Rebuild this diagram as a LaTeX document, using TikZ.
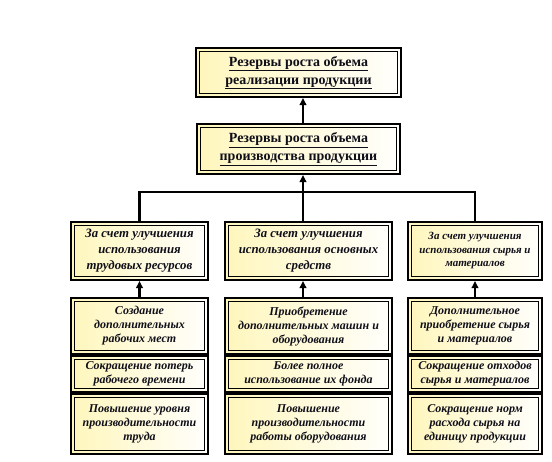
\documentclass[tikz,border=0pt]{standalone}
\usepackage{fontspec}
\setmainfont{Liberation Serif}
\usetikzlibrary{arrows.meta}
\definecolor{ylw}{RGB}{255,246,188}
\definecolor{txt}{RGB}{15,15,25}
\tikzset{
  box/.style={draw, line width=2.2pt, left color=ylw, right color=white!96!ylw,
    align=center, inner sep=0pt, text=txt,
    path picture={\draw[line width=0.8pt]
      ([shift={(3.3pt,3.3pt)}]path picture bounding box.south west) rectangle
      ([shift={(-3.3pt,-3.3pt)}]path picture bounding box.north east);}},
  headfont/.style={font=\fontsize{14}{18}\selectfont\bfseries},
  midfont/.style={font=\fontsize{12.8}{16}\selectfont\bfseries\itshape},
  smallfont/.style={font=\fontsize{11}{13.5}\selectfont\bfseries\itshape},
  lowfont/.style={font=\fontsize{12}{14}\selectfont\bfseries\itshape},
  link/.style={line width=2.4pt},
  arr/.style={line width=2.4pt, -{Triangle[width=6.5pt,length=7pt]}},
}
\begin{document}
\begin{tikzpicture}[x=1pt,y=-1pt]
\fill[white] (0,0) rectangle (552,461);
\useasboundingbox (0,0) rectangle (552,461);
% head boxes
\node[box, headfont, minimum width=204.8pt, minimum height=48.8pt] (top) at (298.5,72.5)
  {\underline{Резервы роста объема}\\\underline{реализации продукции}};
\node[box, headfont, minimum width=202.8pt, minimum height=49.8pt] (sec) at (298.5,149)
  {\underline{Резервы роста объема}\\\underline{производства продукции}};
% middle boxes
\node[box, midfont, minimum width=136.8pt, minimum height=57.8pt] (m1) at (139.5,251)
  {За счет улучшения\\использования\\трудовых ресурсов};
\node[box, midfont, minimum width=166.8pt, minimum height=57.8pt] (m2) at (308.5,251)
  {За счет улучшения\\использования основных\\средств};
\node[box, smallfont, minimum width=133.8pt, minimum height=57.8pt] (m3) at (475,251)
  {За счет улучшения\\использования сырья и\\материалов};
% lower stacks: left
\node[box, lowfont, minimum width=136.8pt, minimum height=55.8pt] (a1) at (139.5,326)
  {Создание\\дополнительных\\рабочих мест};
\node[box, lowfont, minimum width=136.8pt, minimum height=35.8pt] (a2) at (139.5,374)
  {Сокращение потерь\\рабочего времени};
\node[box, lowfont, minimum width=136.8pt, minimum height=59.8pt] (a3) at (139.5,424)
  {Повышение уровня\\производительности\\труда};
% middle stack
\node[box, lowfont, minimum width=166.8pt, minimum height=55.8pt] (b1) at (308.5,326)
  {Приобретение\\дополнительных машин и\\оборудования};
\node[box, lowfont, minimum width=166.8pt, minimum height=35.8pt] (b2) at (308.5,374)
  {Более полное\\использование их фонда};
\node[box, lowfont, minimum width=166.8pt, minimum height=59.8pt] (b3) at (308.5,424)
  {Повышение\\производительности\\работы оборудования};
% right stack
\node[box, lowfont, minimum width=133.8pt, minimum height=55.8pt] (c1) at (475,326)
  {Дополнительное\\приобретение сырья\\и материалов};
\node[box, lowfont, minimum width=133.8pt, minimum height=35.8pt] (c2) at (475,374)
  {Сокращение отходов\\сырья и материалов};
\node[box, lowfont, minimum width=133.8pt, minimum height=59.8pt] (c3) at (475,424)
  {Сокращение норм\\расхода сырья  на\\единицу продукции};
% connectors
\coordinate (ax) at (303,0);
\coordinate (hy) at (0,192);
\draw[arr] (sec.north -| ax) -- (top.south -| ax);
\draw[arr] (m2.north -| ax) -- (sec.south -| ax);
\draw[link] (m1.north) -- (m1.north |- hy) -- (m3.north |- hy) -- (m3.north);
\draw[arr] (a1.north) -- (m1.south);
\draw[arr] (b1.north -| ax) -- (m2.south -| ax);
\draw[arr] (c1.north) -- (m3.south);
\end{tikzpicture}
\end{document}
